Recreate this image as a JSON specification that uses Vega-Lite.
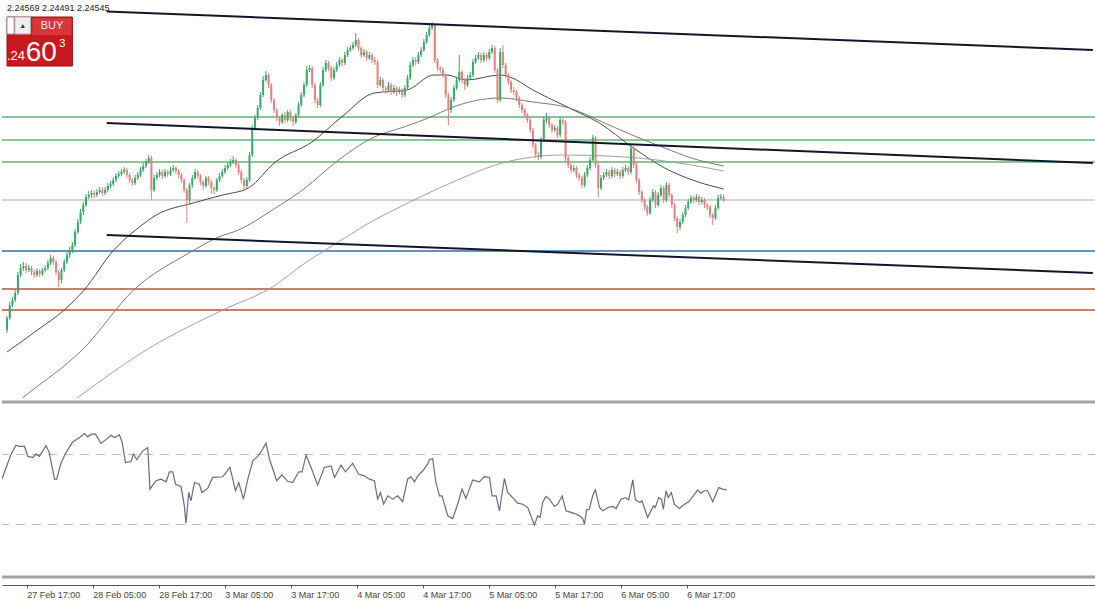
{
"$schema":"https://vega.github.io/schema/vega-lite/v6.json",
"padding":0,
"background":"white",
"spacing":2,
"config":{"view":{"stroke":null},"font":"Liberation Sans"},
"datasets":{
"candles":[
{"i":0,"o":2.2325,"h":2.2339,"l":2.2322,"c":2.2337},
{"i":1,"o":2.2337,"h":2.2353,"l":2.2335,"c":2.2350},
{"i":2,"o":2.2350,"h":2.2358,"l":2.2348,"c":2.2355},
{"i":3,"o":2.2355,"h":2.2365,"l":2.2353,"c":2.2362},
{"i":4,"o":2.2362,"h":2.2383,"l":2.2360,"c":2.2380},
{"i":5,"o":2.2380,"h":2.2391,"l":2.2378,"c":2.2387},
{"i":6,"o":2.2387,"h":2.2393,"l":2.2384,"c":2.2389},
{"i":7,"o":2.2389,"h":2.2392,"l":2.2382,"c":2.2385},
{"i":8,"o":2.2385,"h":2.2390,"l":2.2383,"c":2.2387},
{"i":9,"o":2.2387,"h":2.2389,"l":2.2380,"c":2.2383},
{"i":10,"o":2.2383,"h":2.2385,"l":2.2377,"c":2.2380},
{"i":11,"o":2.2380,"h":2.2387,"l":2.2378,"c":2.2384},
{"i":12,"o":2.2384,"h":2.2386,"l":2.2378,"c":2.2381},
{"i":13,"o":2.2381,"h":2.2387,"l":2.2379,"c":2.2385},
{"i":14,"o":2.2385,"h":2.2390,"l":2.2383,"c":2.2387},
{"i":15,"o":2.2387,"h":2.2395,"l":2.2385,"c":2.2392},
{"i":16,"o":2.2392,"h":2.2400,"l":2.2390,"c":2.2397},
{"i":17,"o":2.2397,"h":2.2399,"l":2.2390,"c":2.2393},
{"i":18,"o":2.2393,"h":2.2395,"l":2.2380,"c":2.2383},
{"i":19,"o":2.2383,"h":2.2385,"l":2.2368,"c":2.2375},
{"i":20,"o":2.2375,"h":2.2387,"l":2.2372,"c":2.2385},
{"i":21,"o":2.2385,"h":2.2396,"l":2.2383,"c":2.2393},
{"i":22,"o":2.2393,"h":2.2403,"l":2.2391,"c":2.2400},
{"i":23,"o":2.2400,"h":2.2408,"l":2.2397,"c":2.2405},
{"i":24,"o":2.2405,"h":2.2413,"l":2.2402,"c":2.2410},
{"i":25,"o":2.2410,"h":2.2426,"l":2.2408,"c":2.2423},
{"i":26,"o":2.2423,"h":2.2436,"l":2.2421,"c":2.2433},
{"i":27,"o":2.2433,"h":2.2446,"l":2.2431,"c":2.2443},
{"i":28,"o":2.2443,"h":2.2453,"l":2.2440,"c":2.2450},
{"i":29,"o":2.2450,"h":2.2461,"l":2.2448,"c":2.2458},
{"i":30,"o":2.2458,"h":2.2464,"l":2.2456,"c":2.2460},
{"i":31,"o":2.2460,"h":2.2465,"l":2.2457,"c":2.2462},
{"i":32,"o":2.2462,"h":2.2465,"l":2.2457,"c":2.2460},
{"i":33,"o":2.2460,"h":2.2466,"l":2.2458,"c":2.2463},
{"i":34,"o":2.2463,"h":2.2468,"l":2.2461,"c":2.2465},
{"i":35,"o":2.2465,"h":2.2468,"l":2.2459,"c":2.2462},
{"i":36,"o":2.2462,"h":2.2468,"l":2.2460,"c":2.2465},
{"i":37,"o":2.2465,"h":2.2472,"l":2.2463,"c":2.2469},
{"i":38,"o":2.2469,"h":2.2474,"l":2.2467,"c":2.2471},
{"i":39,"o":2.2471,"h":2.2478,"l":2.2469,"c":2.2475},
{"i":40,"o":2.2475,"h":2.2482,"l":2.2473,"c":2.2479},
{"i":41,"o":2.2479,"h":2.2484,"l":2.2477,"c":2.2481},
{"i":42,"o":2.2481,"h":2.2486,"l":2.2479,"c":2.2483},
{"i":43,"o":2.2483,"h":2.2488,"l":2.2481,"c":2.2485},
{"i":44,"o":2.2485,"h":2.2487,"l":2.2477,"c":2.2480},
{"i":45,"o":2.2480,"h":2.2482,"l":2.2472,"c":2.2475},
{"i":46,"o":2.2475,"h":2.2477,"l":2.2469,"c":2.2472},
{"i":47,"o":2.2472,"h":2.2480,"l":2.2470,"c":2.2477},
{"i":48,"o":2.2477,"h":2.2483,"l":2.2475,"c":2.2480},
{"i":49,"o":2.2480,"h":2.2488,"l":2.2478,"c":2.2485},
{"i":50,"o":2.2485,"h":2.2492,"l":2.2483,"c":2.2489},
{"i":51,"o":2.2489,"h":2.2496,"l":2.2487,"c":2.2493},
{"i":52,"o":2.2493,"h":2.2500,"l":2.2491,"c":2.2497},
{"i":53,"o":2.2497,"h":2.2499,"l":2.2455,"c":2.2465},
{"i":54,"o":2.2465,"h":2.2480,"l":2.2463,"c":2.2477},
{"i":55,"o":2.2477,"h":2.2483,"l":2.2475,"c":2.2480},
{"i":56,"o":2.2480,"h":2.2486,"l":2.2478,"c":2.2483},
{"i":57,"o":2.2483,"h":2.2485,"l":2.2476,"c":2.2479},
{"i":58,"o":2.2479,"h":2.2486,"l":2.2477,"c":2.2483},
{"i":59,"o":2.2483,"h":2.2485,"l":2.2478,"c":2.2481},
{"i":60,"o":2.2481,"h":2.2488,"l":2.2479,"c":2.2485},
{"i":61,"o":2.2485,"h":2.2490,"l":2.2483,"c":2.2487},
{"i":62,"o":2.2487,"h":2.2489,"l":2.2481,"c":2.2484},
{"i":63,"o":2.2484,"h":2.2486,"l":2.2477,"c":2.2480},
{"i":64,"o":2.2480,"h":2.2482,"l":2.2472,"c":2.2475},
{"i":65,"o":2.2475,"h":2.2477,"l":2.2462,"c":2.2465},
{"i":66,"o":2.2465,"h":2.2467,"l":2.2432,"c":2.2455},
{"i":67,"o":2.2455,"h":2.2472,"l":2.2450,"c":2.2470},
{"i":68,"o":2.2470,"h":2.2480,"l":2.2467,"c":2.2477},
{"i":69,"o":2.2477,"h":2.2486,"l":2.2475,"c":2.2483},
{"i":70,"o":2.2483,"h":2.2485,"l":2.2476,"c":2.2479},
{"i":71,"o":2.2479,"h":2.2481,"l":2.2470,"c":2.2473},
{"i":72,"o":2.2473,"h":2.2475,"l":2.2465,"c":2.2469},
{"i":73,"o":2.2469,"h":2.2479,"l":2.2467,"c":2.2477},
{"i":74,"o":2.2477,"h":2.2479,"l":2.2470,"c":2.2473},
{"i":75,"o":2.2473,"h":2.2475,"l":2.2462,"c":2.2467},
{"i":76,"o":2.2467,"h":2.2469,"l":2.2461,"c":2.2465},
{"i":77,"o":2.2465,"h":2.2477,"l":2.2463,"c":2.2475},
{"i":78,"o":2.2475,"h":2.2482,"l":2.2473,"c":2.2479},
{"i":79,"o":2.2479,"h":2.2486,"l":2.2477,"c":2.2483},
{"i":80,"o":2.2483,"h":2.2490,"l":2.2481,"c":2.2487},
{"i":81,"o":2.2487,"h":2.2493,"l":2.2485,"c":2.2490},
{"i":82,"o":2.2490,"h":2.2496,"l":2.2488,"c":2.2493},
{"i":83,"o":2.2493,"h":2.2499,"l":2.2491,"c":2.2495},
{"i":84,"o":2.2495,"h":2.2497,"l":2.2487,"c":2.2490},
{"i":85,"o":2.2490,"h":2.2492,"l":2.2480,"c":2.2483},
{"i":86,"o":2.2483,"h":2.2485,"l":2.2472,"c":2.2475},
{"i":87,"o":2.2475,"h":2.2477,"l":2.2464,"c":2.2469},
{"i":88,"o":2.2469,"h":2.2478,"l":2.2467,"c":2.2475},
{"i":89,"o":2.2475,"h":2.2503,"l":2.2473,"c":2.2500},
{"i":90,"o":2.2500,"h":2.2530,"l":2.2498,"c":2.2527},
{"i":91,"o":2.2527,"h":2.2540,"l":2.2525,"c":2.2537},
{"i":92,"o":2.2537,"h":2.2550,"l":2.2535,"c":2.2547},
{"i":93,"o":2.2547,"h":2.2563,"l":2.2545,"c":2.2560},
{"i":94,"o":2.2560,"h":2.2579,"l":2.2558,"c":2.2575},
{"i":95,"o":2.2575,"h":2.2584,"l":2.2573,"c":2.2580},
{"i":96,"o":2.2580,"h":2.2582,"l":2.2567,"c":2.2570},
{"i":97,"o":2.2570,"h":2.2572,"l":2.2552,"c":2.2555},
{"i":98,"o":2.2555,"h":2.2557,"l":2.2542,"c":2.2545},
{"i":99,"o":2.2545,"h":2.2547,"l":2.2534,"c":2.2537},
{"i":100,"o":2.2537,"h":2.2539,"l":2.2529,"c":2.2533},
{"i":101,"o":2.2533,"h":2.2542,"l":2.2531,"c":2.2540},
{"i":102,"o":2.2540,"h":2.2543,"l":2.2532,"c":2.2535},
{"i":103,"o":2.2535,"h":2.2545,"l":2.2533,"c":2.2543},
{"i":104,"o":2.2543,"h":2.2545,"l":2.2534,"c":2.2537},
{"i":105,"o":2.2537,"h":2.2539,"l":2.2529,"c":2.2533},
{"i":106,"o":2.2533,"h":2.2542,"l":2.2531,"c":2.2540},
{"i":107,"o":2.2540,"h":2.2553,"l":2.2538,"c":2.2550},
{"i":108,"o":2.2550,"h":2.2563,"l":2.2548,"c":2.2560},
{"i":109,"o":2.2560,"h":2.2573,"l":2.2558,"c":2.2570},
{"i":110,"o":2.2570,"h":2.2589,"l":2.2568,"c":2.2585},
{"i":111,"o":2.2585,"h":2.2590,"l":2.2583,"c":2.2587},
{"i":112,"o":2.2587,"h":2.2589,"l":2.2567,"c":2.2570},
{"i":113,"o":2.2570,"h":2.2572,"l":2.2552,"c":2.2555},
{"i":114,"o":2.2555,"h":2.2557,"l":2.2547,"c":2.2550},
{"i":115,"o":2.2550,"h":2.2573,"l":2.2548,"c":2.2570},
{"i":116,"o":2.2570,"h":2.2588,"l":2.2568,"c":2.2585},
{"i":117,"o":2.2585,"h":2.2595,"l":2.2583,"c":2.2592},
{"i":118,"o":2.2592,"h":2.2594,"l":2.2584,"c":2.2587},
{"i":119,"o":2.2587,"h":2.2589,"l":2.2574,"c":2.2577},
{"i":120,"o":2.2577,"h":2.2588,"l":2.2575,"c":2.2585},
{"i":121,"o":2.2585,"h":2.2593,"l":2.2583,"c":2.2590},
{"i":122,"o":2.2590,"h":2.2598,"l":2.2588,"c":2.2595},
{"i":123,"o":2.2595,"h":2.2597,"l":2.2589,"c":2.2592},
{"i":124,"o":2.2592,"h":2.2603,"l":2.2590,"c":2.2600},
{"i":125,"o":2.2600,"h":2.2608,"l":2.2598,"c":2.2605},
{"i":126,"o":2.2605,"h":2.2610,"l":2.2603,"c":2.2607},
{"i":127,"o":2.2607,"h":2.2613,"l":2.2605,"c":2.2610},
{"i":128,"o":2.2610,"h":2.2622,"l":2.2608,"c":2.2615},
{"i":129,"o":2.2615,"h":2.2617,"l":2.2604,"c":2.2607},
{"i":130,"o":2.2607,"h":2.2609,"l":2.2597,"c":2.2600},
{"i":131,"o":2.2600,"h":2.2606,"l":2.2598,"c":2.2603},
{"i":132,"o":2.2603,"h":2.2605,"l":2.2594,"c":2.2597},
{"i":133,"o":2.2597,"h":2.2603,"l":2.2595,"c":2.2600},
{"i":134,"o":2.2600,"h":2.2602,"l":2.2592,"c":2.2595},
{"i":135,"o":2.2595,"h":2.2598,"l":2.2590,"c":2.2593},
{"i":136,"o":2.2593,"h":2.2595,"l":2.2567,"c":2.2570},
{"i":137,"o":2.2570,"h":2.2578,"l":2.2568,"c":2.2575},
{"i":138,"o":2.2575,"h":2.2577,"l":2.2564,"c":2.2567},
{"i":139,"o":2.2567,"h":2.2569,"l":2.2561,"c":2.2565},
{"i":140,"o":2.2565,"h":2.2573,"l":2.2563,"c":2.2570},
{"i":141,"o":2.2570,"h":2.2572,"l":2.2560,"c":2.2563},
{"i":142,"o":2.2563,"h":2.2570,"l":2.2561,"c":2.2567},
{"i":143,"o":2.2567,"h":2.2569,"l":2.2559,"c":2.2563},
{"i":144,"o":2.2563,"h":2.2568,"l":2.2561,"c":2.2565},
{"i":145,"o":2.2565,"h":2.2567,"l":2.2557,"c":2.2560},
{"i":146,"o":2.2560,"h":2.2570,"l":2.2558,"c":2.2567},
{"i":147,"o":2.2567,"h":2.2580,"l":2.2565,"c":2.2577},
{"i":148,"o":2.2577,"h":2.2593,"l":2.2575,"c":2.2590},
{"i":149,"o":2.2590,"h":2.2598,"l":2.2588,"c":2.2595},
{"i":150,"o":2.2595,"h":2.2598,"l":2.2590,"c":2.2593},
{"i":151,"o":2.2593,"h":2.2603,"l":2.2591,"c":2.2600},
{"i":152,"o":2.2600,"h":2.2608,"l":2.2598,"c":2.2605},
{"i":153,"o":2.2605,"h":2.2616,"l":2.2603,"c":2.2613},
{"i":154,"o":2.2613,"h":2.2623,"l":2.2611,"c":2.2620},
{"i":155,"o":2.2620,"h":2.2630,"l":2.2618,"c":2.2627},
{"i":156,"o":2.2627,"h":2.2633,"l":2.2625,"c":2.2630},
{"i":157,"o":2.2630,"h":2.2632,"l":2.2592,"c":2.2595},
{"i":158,"o":2.2595,"h":2.2597,"l":2.2584,"c":2.2587},
{"i":159,"o":2.2587,"h":2.2589,"l":2.2582,"c":2.2585},
{"i":160,"o":2.2585,"h":2.2588,"l":2.2577,"c":2.2580},
{"i":161,"o":2.2580,"h":2.2582,"l":2.2557,"c":2.2560},
{"i":162,"o":2.2560,"h":2.2562,"l":2.2530,"c":2.2545},
{"i":163,"o":2.2545,"h":2.2558,"l":2.2542,"c":2.2555},
{"i":164,"o":2.2555,"h":2.2570,"l":2.2553,"c":2.2567},
{"i":165,"o":2.2567,"h":2.2578,"l":2.2565,"c":2.2575},
{"i":166,"o":2.2575,"h":2.2600,"l":2.2573,"c":2.2583},
{"i":167,"o":2.2583,"h":2.2585,"l":2.2572,"c":2.2575},
{"i":168,"o":2.2575,"h":2.2577,"l":2.2565,"c":2.2570},
{"i":169,"o":2.2570,"h":2.2580,"l":2.2568,"c":2.2577},
{"i":170,"o":2.2577,"h":2.2583,"l":2.2575,"c":2.2580},
{"i":171,"o":2.2580,"h":2.2596,"l":2.2578,"c":2.2593},
{"i":172,"o":2.2593,"h":2.2600,"l":2.2591,"c":2.2597},
{"i":173,"o":2.2597,"h":2.2603,"l":2.2595,"c":2.2600},
{"i":174,"o":2.2600,"h":2.2602,"l":2.2592,"c":2.2595},
{"i":175,"o":2.2595,"h":2.2603,"l":2.2593,"c":2.2600},
{"i":176,"o":2.2600,"h":2.2602,"l":2.2594,"c":2.2597},
{"i":177,"o":2.2597,"h":2.2606,"l":2.2595,"c":2.2603},
{"i":178,"o":2.2603,"h":2.2610,"l":2.2601,"c":2.2607},
{"i":179,"o":2.2607,"h":2.2609,"l":2.2582,"c":2.2585},
{"i":180,"o":2.2585,"h":2.2587,"l":2.2552,"c":2.2555},
{"i":181,"o":2.2555,"h":2.2607,"l":2.2553,"c":2.2603},
{"i":182,"o":2.2603,"h":2.2610,"l":2.2587,"c":2.2590},
{"i":183,"o":2.2590,"h":2.2592,"l":2.2577,"c":2.2580},
{"i":184,"o":2.2580,"h":2.2582,"l":2.2570,"c":2.2573},
{"i":185,"o":2.2573,"h":2.2575,"l":2.2562,"c":2.2565},
{"i":186,"o":2.2565,"h":2.2568,"l":2.2560,"c":2.2563},
{"i":187,"o":2.2563,"h":2.2565,"l":2.2554,"c":2.2557},
{"i":188,"o":2.2557,"h":2.2559,"l":2.2547,"c":2.2550},
{"i":189,"o":2.2550,"h":2.2552,"l":2.2542,"c":2.2545},
{"i":190,"o":2.2545,"h":2.2547,"l":2.2537,"c":2.2540},
{"i":191,"o":2.2540,"h":2.2542,"l":2.2532,"c":2.2535},
{"i":192,"o":2.2535,"h":2.2537,"l":2.2522,"c":2.2525},
{"i":193,"o":2.2525,"h":2.2527,"l":2.2507,"c":2.2510},
{"i":194,"o":2.2510,"h":2.2512,"l":2.2497,"c":2.2500},
{"i":195,"o":2.2500,"h":2.2503,"l":2.2495,"c":2.2498},
{"i":196,"o":2.2498,"h":2.2518,"l":2.2496,"c":2.2515},
{"i":197,"o":2.2515,"h":2.2538,"l":2.2513,"c":2.2535},
{"i":198,"o":2.2535,"h":2.2542,"l":2.2532,"c":2.2537},
{"i":199,"o":2.2537,"h":2.2539,"l":2.2527,"c":2.2530},
{"i":200,"o":2.2530,"h":2.2532,"l":2.2522,"c":2.2525},
{"i":201,"o":2.2525,"h":2.2530,"l":2.2523,"c":2.2527},
{"i":202,"o":2.2527,"h":2.2529,"l":2.2517,"c":2.2520},
{"i":203,"o":2.2520,"h":2.2538,"l":2.2518,"c":2.2535},
{"i":204,"o":2.2535,"h":2.2537,"l":2.2530,"c":2.2533},
{"i":205,"o":2.2533,"h":2.2535,"l":2.2494,"c":2.2497},
{"i":206,"o":2.2497,"h":2.2499,"l":2.2487,"c":2.2490},
{"i":207,"o":2.2490,"h":2.2492,"l":2.2482,"c":2.2485},
{"i":208,"o":2.2485,"h":2.2490,"l":2.2483,"c":2.2487},
{"i":209,"o":2.2487,"h":2.2489,"l":2.2477,"c":2.2480},
{"i":210,"o":2.2480,"h":2.2482,"l":2.2474,"c":2.2477},
{"i":211,"o":2.2477,"h":2.2479,"l":2.2467,"c":2.2470},
{"i":212,"o":2.2470,"h":2.2483,"l":2.2468,"c":2.2480},
{"i":213,"o":2.2480,"h":2.2490,"l":2.2478,"c":2.2487},
{"i":214,"o":2.2487,"h":2.2498,"l":2.2485,"c":2.2495},
{"i":215,"o":2.2495,"h":2.2520,"l":2.2493,"c":2.2517},
{"i":216,"o":2.2517,"h":2.2519,"l":2.2487,"c":2.2490},
{"i":217,"o":2.2490,"h":2.2492,"l":2.2458,"c":2.2467},
{"i":218,"o":2.2467,"h":2.2480,"l":2.2465,"c":2.2477},
{"i":219,"o":2.2477,"h":2.2483,"l":2.2475,"c":2.2480},
{"i":220,"o":2.2480,"h":2.2486,"l":2.2478,"c":2.2483},
{"i":221,"o":2.2483,"h":2.2485,"l":2.2476,"c":2.2479},
{"i":222,"o":2.2479,"h":2.2488,"l":2.2477,"c":2.2485},
{"i":223,"o":2.2485,"h":2.2487,"l":2.2478,"c":2.2481},
{"i":224,"o":2.2481,"h":2.2486,"l":2.2479,"c":2.2483},
{"i":225,"o":2.2483,"h":2.2485,"l":2.2476,"c":2.2479},
{"i":226,"o":2.2479,"h":2.2488,"l":2.2477,"c":2.2485},
{"i":227,"o":2.2485,"h":2.2490,"l":2.2483,"c":2.2487},
{"i":228,"o":2.2487,"h":2.2489,"l":2.2480,"c":2.2483},
{"i":229,"o":2.2483,"h":2.2510,"l":2.2481,"c":2.2507},
{"i":230,"o":2.2507,"h":2.2509,"l":2.2487,"c":2.2490},
{"i":231,"o":2.2490,"h":2.2492,"l":2.2472,"c":2.2475},
{"i":232,"o":2.2475,"h":2.2477,"l":2.2460,"c":2.2463},
{"i":233,"o":2.2463,"h":2.2465,"l":2.2452,"c":2.2455},
{"i":234,"o":2.2455,"h":2.2457,"l":2.2445,"c":2.2448},
{"i":235,"o":2.2448,"h":2.2450,"l":2.2439,"c":2.2442},
{"i":236,"o":2.2442,"h":2.2458,"l":2.2440,"c":2.2455},
{"i":237,"o":2.2455,"h":2.2466,"l":2.2453,"c":2.2463},
{"i":238,"o":2.2463,"h":2.2465,"l":2.2447,"c":2.2450},
{"i":239,"o":2.2450,"h":2.2463,"l":2.2448,"c":2.2460},
{"i":240,"o":2.2460,"h":2.2470,"l":2.2458,"c":2.2467},
{"i":241,"o":2.2467,"h":2.2469,"l":2.2452,"c":2.2455},
{"i":242,"o":2.2455,"h":2.2473,"l":2.2453,"c":2.2470},
{"i":243,"o":2.2470,"h":2.2472,"l":2.2457,"c":2.2460},
{"i":244,"o":2.2460,"h":2.2462,"l":2.2447,"c":2.2450},
{"i":245,"o":2.2450,"h":2.2452,"l":2.2434,"c":2.2437},
{"i":246,"o":2.2437,"h":2.2439,"l":2.2422,"c":2.2428},
{"i":247,"o":2.2428,"h":2.2436,"l":2.2425,"c":2.2433},
{"i":248,"o":2.2433,"h":2.2443,"l":2.2431,"c":2.2440},
{"i":249,"o":2.2440,"h":2.2450,"l":2.2438,"c":2.2447},
{"i":250,"o":2.2447,"h":2.2456,"l":2.2445,"c":2.2453},
{"i":251,"o":2.2453,"h":2.2460,"l":2.2451,"c":2.2457},
{"i":252,"o":2.2457,"h":2.2459,"l":2.2452,"c":2.2455},
{"i":253,"o":2.2455,"h":2.2461,"l":2.2453,"c":2.2458},
{"i":254,"o":2.2458,"h":2.2460,"l":2.2450,"c":2.2453},
{"i":255,"o":2.2453,"h":2.2458,"l":2.2451,"c":2.2455},
{"i":256,"o":2.2455,"h":2.2457,"l":2.2447,"c":2.2450},
{"i":257,"o":2.2450,"h":2.2452,"l":2.2445,"c":2.2448},
{"i":258,"o":2.2448,"h":2.2450,"l":2.2437,"c":2.2440},
{"i":259,"o":2.2440,"h":2.2442,"l":2.2430,"c":2.2437},
{"i":260,"o":2.2437,"h":2.2450,"l":2.2435,"c":2.2447},
{"i":261,"o":2.2447,"h":2.2460,"l":2.2445,"c":2.2457},
{"i":262,"o":2.2457,"h":2.2461,"l":2.2455,"c":2.2458},
{"i":263,"o":2.2458,"h":2.2460,"l":2.2453,"c":2.2455}
],
"ma":[
{"ma":"fast","i":0,"p":2.2303},{"ma":"fast","i":11.2,"p":2.2325},{"ma":"fast","i":21,"p":2.2345},{"ma":"fast","i":28.3,"p":2.2365},{"ma":"fast","i":39.2,"p":2.2405},{"ma":"fast","i":48.6,"p":2.2428},{"ma":"fast","i":54.8,"p":2.2440},{"ma":"fast","i":68.3,"p":2.2452},{"ma":"fast","i":79.2,"p":2.2460},{"ma":"fast","i":88.6,"p":2.2467},{"ma":"fast","i":98.5,"p":2.2493},{"ma":"fast","i":111.9,"p":2.2513},{"ma":"fast","i":122.8,"p":2.2538},{"ma":"fast","i":134.8,"p":2.2562},{"ma":"fast","i":146.8,"p":2.2565},{"ma":"fast","i":156.6,"p":2.2580},{"ma":"fast","i":161.4,"p":2.2580},{"ma":"fast","i":168.6,"p":2.2575},{"ma":"fast","i":181,"p":2.2580},{"ma":"fast","i":184.6,"p":2.2578},{"ma":"fast","i":193,"p":2.2565},{"ma":"fast","i":206.4,"p":2.2547},{"ma":"fast","i":217.4,"p":2.2532},{"ma":"fast","i":229.4,"p":2.2508},{"ma":"fast","i":241.4,"p":2.2487},{"ma":"fast","i":253.7,"p":2.2473},{"ma":"fast","i":263,"p":2.2466},
{"ma":"medium","i":0,"p":2.2244},{"ma":"medium","i":5.7,"p":2.2257},{"ma":"medium","i":28.3,"p":2.2307},{"ma":"medium","i":46.5,"p":2.2365},{"ma":"medium","i":66.8,"p":2.2402},{"ma":"medium","i":77.7,"p":2.2418},{"ma":"medium","i":85,"p":2.2425},{"ma":"medium","i":97.4,"p":2.2445},{"ma":"medium","i":109.4,"p":2.2467},{"ma":"medium","i":120.3,"p":2.2492},{"ma":"medium","i":134.8,"p":2.2518},{"ma":"medium","i":145.7,"p":2.2528},{"ma":"medium","i":155.5,"p":2.2538},{"ma":"medium","i":162.8,"p":2.2547},{"ma":"medium","i":181,"p":2.2557},{"ma":"medium","i":193,"p":2.2553},{"ma":"medium","i":206.4,"p":2.2547},{"ma":"medium","i":218.5,"p":2.2533},{"ma":"medium","i":229.4,"p":2.2520},{"ma":"medium","i":241.4,"p":2.2507},{"ma":"medium","i":251.2,"p":2.2497},{"ma":"medium","i":263,"p":2.2489},
{"ma":"slow","i":14.8,"p":2.2235},{"ma":"slow","i":25.7,"p":2.2257},{"ma":"slow","i":52.3,"p":2.2307},{"ma":"slow","i":79.2,"p":2.2345},{"ma":"slow","i":97.4,"p":2.2368},{"ma":"slow","i":109.4,"p":2.2392},{"ma":"slow","i":122.8,"p":2.2415},{"ma":"slow","i":134.8,"p":2.2435},{"ma":"slow","i":142,"p":2.2445},{"ma":"slow","i":162.8,"p":2.2472},{"ma":"slow","i":183.2,"p":2.2493},{"ma":"slow","i":193,"p":2.2498},{"ma":"slow","i":203.9,"p":2.2500},{"ma":"slow","i":226.8,"p":2.2498},{"ma":"slow","i":251.2,"p":2.2490},{"ma":"slow","i":263,"p":2.2484}
],
"levels":[
{"name":"R1","price":2.2538},{"name":"R2","price":2.2515},{"name":"R3","price":2.2493},{"name":"P","price":2.2455},{"name":"S1","price":2.2404},{"name":"S2","price":2.2366},{"name":"S3","price":2.2345}
],
"trend":[
{"line":"upper","i":36.6,"p":2.26435},{"line":"upper","i":398.5,"p":2.2605},
{"line":"middle","i":36.6,"p":2.2532},{"line":"middle","i":398.5,"p":2.2492},
{"line":"lower","i":36.6,"p":2.2420},{"line":"lower","i":398.5,"p":2.2382}
],
"rsiLevels":[{"level":70},{"level":30}],
"rsi":[
{"i":0,"v":55.9},{"i":1.5,"v":62.6},{"i":3.3,"v":70.2},{"i":5.1,"v":75.3},{"i":6.3,"v":74.6},{"i":8.2,"v":74.6},{"i":9.4,"v":68.9},{"i":11.2,"v":68.3},{"i":12.4,"v":70.2},{"i":13.6,"v":68.9},{"i":16,"v":75},{"i":17.2,"v":71.1},{"i":19.1,"v":55.9},{"i":19.9,"v":55.9},{"i":21.5,"v":65.4},{"i":23.3,"v":71.1},{"i":25.7,"v":77.2},{"i":28.2,"v":79.7},{"i":30,"v":82},{"i":31.2,"v":80.1},{"i":32.4,"v":81.6},{"i":34,"v":81.6},{"i":36,"v":76.3},{"i":37.2,"v":77.8},{"i":39.7,"v":81},{"i":40.9,"v":79.7},{"i":42.7,"v":81.2},{"i":43.7,"v":76.9},{"i":44.9,"v":65.4},{"i":46.9,"v":66},{"i":47.8,"v":70.2},{"i":49,"v":67},{"i":51.2,"v":72.1},{"i":53,"v":74},{"i":53.8,"v":50.2},{"i":56,"v":55},{"i":57.8,"v":55.9},{"i":59.7,"v":54.4},{"i":60.9,"v":60.1},{"i":62.1,"v":60.1},{"i":63.1,"v":53},{"i":65.1,"v":51.7},{"i":66.3,"v":40.7},{"i":66.9,"v":30.7},{"i":67.9,"v":48.3},{"i":68.7,"v":43.5},{"i":70,"v":54},{"i":71.8,"v":53},{"i":72.7,"v":48.3},{"i":74.8,"v":50.6},{"i":76.6,"v":56.9},{"i":80.3,"v":57.3},{"i":82.9,"v":62.6},{"i":84.9,"v":49.3},{"i":86.1,"v":54},{"i":87.8,"v":44.5},{"i":89.4,"v":55.9},{"i":91.2,"v":66.4},{"i":93,"v":68.9},{"i":94.8,"v":73},{"i":96,"v":76.5},{"i":97.3,"v":67.3},{"i":99.9,"v":55},{"i":101.8,"v":58.4},{"i":103.9,"v":54.7},{"i":105.7,"v":54},{"i":107.9,"v":60.1},{"i":109.1,"v":60.1},{"i":110.6,"v":69.6},{"i":112.4,"v":62.6},{"i":114.8,"v":52.5},{"i":117.2,"v":62.6},{"i":119.7,"v":63.5},{"i":120.9,"v":56.9},{"i":123.3,"v":63.9},{"i":124.9,"v":60.1},{"i":127.5,"v":65},{"i":129.7,"v":58.7},{"i":131.8,"v":57.8},{"i":133.6,"v":55.9},{"i":135.4,"v":55},{"i":136.6,"v":44.5},{"i":137.6,"v":48.3},{"i":138.8,"v":41.6},{"i":140.3,"v":46.4},{"i":142.1,"v":44.5},{"i":143.9,"v":46.4},{"i":145.7,"v":43},{"i":147.5,"v":55.9},{"i":148.7,"v":57.4},{"i":150,"v":54.4},{"i":151.2,"v":57.8},{"i":153,"v":60.7},{"i":154.8,"v":64.5},{"i":155.4,"v":67},{"i":156.6,"v":67.7},{"i":157.8,"v":54},{"i":159.1,"v":46.4},{"i":160,"v":46.4},{"i":162.1,"v":35},{"i":163.9,"v":33.4},{"i":165.7,"v":41.6},{"i":167.3,"v":50.2},{"i":168.7,"v":44.9},{"i":171.2,"v":55.5},{"i":173.6,"v":54.4},{"i":175.4,"v":57.4},{"i":177.3,"v":56.9},{"i":178.2,"v":46.4},{"i":179.7,"v":46.4},{"i":180.9,"v":37.8},{"i":182.7,"v":56.3},{"i":183.9,"v":48.3},{"i":185.7,"v":45.4},{"i":187.5,"v":42.2},{"i":189.4,"v":41.6},{"i":191.2,"v":39.7},{"i":193.6,"v":29.6},{"i":194.8,"v":35},{"i":195.7,"v":34},{"i":196.6,"v":42.6},{"i":197.8,"v":46},{"i":199.1,"v":44.5},{"i":200.9,"v":40.3},{"i":202.1,"v":41.6},{"i":203.7,"v":46.4},{"i":205.1,"v":37.8},{"i":206.9,"v":36.9},{"i":208.8,"v":35.9},{"i":210,"v":35},{"i":211.2,"v":33.4},{"i":211.8,"v":30.2},{"i":212.6,"v":38.4},{"i":213.6,"v":38.7},{"i":214.8,"v":46.4},{"i":215.8,"v":49.8},{"i":217.3,"v":39.7},{"i":218.5,"v":37.8},{"i":220.3,"v":39.7},{"i":222.1,"v":40.3},{"i":223.3,"v":39.1},{"i":225.1,"v":44.5},{"i":226.7,"v":45.4},{"i":227.9,"v":44.1},{"i":229.4,"v":55.5},{"i":230.3,"v":44.1},{"i":232,"v":42.6},{"i":232.7,"v":43.5},{"i":234.8,"v":34},{"i":236.9,"v":40.7},{"i":237.6,"v":39.7},{"i":238.8,"v":45.4},{"i":239.8,"v":44.5},{"i":240.5,"v":38.7},{"i":241.5,"v":49.3},{"i":242.3,"v":45.4},{"i":243.4,"v":48.3},{"i":244.5,"v":41.6},{"i":246.3,"v":39.1},{"i":248.2,"v":41.6},{"i":249.7,"v":43},{"i":251.4,"v":46.4},{"i":253,"v":49.8},{"i":254.2,"v":47.9},{"i":255.4,"v":49.3},{"i":256.6,"v":49.3},{"i":258.5,"v":43},{"i":260.6,"v":51.1},{"i":262.1,"v":50.2},{"i":263.5,"v":49.8}
]
},
"vconcat":[
{
"width":1095,"height":398,
"resolve":{"scale":{"color":"independent"}},
"layer":[
{"data":{"name":"levels"},
 "mark":{"type":"rule","clip":true},
 "encoding":{
  "y":{"field":"price","type":"quantitative","scale":{"domain":[2.2257,2.2655],"nice":false,"zero":false},"axis":null},
  "color":{"field":"name","type":"nominal","scale":{"domain":["R1","R2","R3","P","S1","S2","S3"],"range":["#5cb37c","#5cb870","#5cb870","#a9a9a9","#2f6ea5","#b4533d","#b4533d"]},"legend":null},
  "strokeWidth":{"condition":{"test":"datum.name==='P'","value":1},"value":1.6}
 }},
{"data":{"name":"ma"},
 "mark":{"type":"line","interpolate":"monotone","strokeWidth":1,"clip":true},
 "encoding":{
  "x":{"field":"i","type":"quantitative","scale":{"domain":[0,398.2],"nice":false,"zero":false},"axis":null},
  "y":{"field":"p","type":"quantitative","scale":{"domain":[2.2257,2.2655],"nice":false,"zero":false},"axis":null},
  "color":{"field":"ma","type":"nominal","scale":{"domain":["fast","medium","slow"],"range":["#4a4a4a","#7a7a7a","#a0a0a0"]},"legend":null},
  "detail":{"field":"ma"}
 }},
{"data":{"name":"candles"},
 "mark":{"type":"rule","strokeWidth":1,"clip":true},
 "encoding":{
  "x":{"field":"i","type":"quantitative","scale":{"domain":[0,398.2],"nice":false,"zero":false},"axis":null},
  "y":{"field":"l","type":"quantitative","scale":{"domain":[2.2257,2.2655],"nice":false,"zero":false},"axis":null},
  "y2":{"field":"h"},
  "color":{"condition":{"test":"datum.c >= datum.o","value":"#3aa86a"},"value":"#e5807c"}
 }},
{"data":{"name":"candles"},
 "mark":{"type":"bar","width":2,"orient":"vertical","clip":true},
 "encoding":{
  "x":{"field":"i","type":"quantitative","scale":{"domain":[0,398.2],"nice":false,"zero":false},"axis":null},
  "y":{"field":"o","type":"quantitative","scale":{"domain":[2.2257,2.2655],"nice":false,"zero":false},"axis":null},
  "y2":{"field":"c"},
  "color":{"condition":{"test":"datum.c >= datum.o","value":"#3aa86a"},"value":"#e5807c"}
 }},
{"data":{"name":"trend"},
 "mark":{"type":"line","strokeWidth":2,"color":"#15152a","clip":true},
 "encoding":{
  "x":{"field":"i","type":"quantitative","scale":{"domain":[0,398.2],"nice":false,"zero":false},"axis":null},
  "y":{"field":"p","type":"quantitative","scale":{"domain":[2.2257,2.2655],"nice":false,"zero":false},"axis":null},
  "detail":{"field":"line"}
 }},
{"data":{"values":[{}]},
 "mark":{"type":"text","text":"2.24569 2.24491 2.24545","align":"left","baseline":"middle","fontSize":9,"color":"#222222","font":"Liberation Sans"},
 "encoding":{
  "x":{"datum":0,"type":"quantitative","scale":{"domain":[0,398.2],"nice":false,"zero":false},"axis":null},
  "y":{"datum":2.2647,"type":"quantitative","scale":{"domain":[2.2257,2.2655],"nice":false,"zero":false},"axis":null}
 }},
{"data":{"values":[{}]},
 "mark":{"type":"rect","color":"#c9181e","stroke":"#9e1015","strokeWidth":1},
 "encoding":{
  "x":{"datum":0,"type":"quantitative","scale":{"domain":[0,398.2],"nice":false,"zero":false},"axis":null},
  "x2":{"datum":24},
  "y":{"datum":2.2638,"type":"quantitative","scale":{"domain":[2.2257,2.2655],"nice":false,"zero":false},"axis":null},
  "y2":{"datum":2.2589}
 }},
{"data":{"values":[{}]},
 "mark":{"type":"rect","color":"#d9363b"},
 "encoding":{
  "x":{"datum":9.3,"type":"quantitative","scale":{"domain":[0,398.2],"nice":false,"zero":false},"axis":null},
  "x2":{"datum":23.7},
  "y":{"datum":2.2637,"type":"quantitative","scale":{"domain":[2.2257,2.2655],"nice":false,"zero":false},"axis":null},
  "y2":{"datum":2.2620}
 }},
{"data":{"values":[{}]},
 "mark":{"type":"rect","color":"#ffffff","stroke":"#9a9a9a","strokeWidth":1},
 "encoding":{
  "x":{"datum":0,"type":"quantitative","scale":{"domain":[0,398.2],"nice":false,"zero":false},"axis":null},
  "x2":{"datum":2.6},
  "y":{"datum":2.2638,"type":"quantitative","scale":{"domain":[2.2257,2.2655],"nice":false,"zero":false},"axis":null},
  "y2":{"datum":2.2621}
 }},
{"data":{"values":[{}]},
 "mark":{"type":"rect","color":"#eeeeee","stroke":"#b5b5b5","strokeWidth":1},
 "encoding":{
  "x":{"datum":2.9,"type":"quantitative","scale":{"domain":[0,398.2],"nice":false,"zero":false},"axis":null},
  "x2":{"datum":8.6},
  "y":{"datum":2.2638,"type":"quantitative","scale":{"domain":[2.2257,2.2655],"nice":false,"zero":false},"axis":null},
  "y2":{"datum":2.2621}
 }},
{"data":{"values":[{}]},
 "mark":{"type":"text","text":"▲","align":"center","baseline":"middle","fontSize":7,"color":"#333333"},
 "encoding":{
  "x":{"datum":5.8,"type":"quantitative","scale":{"domain":[0,398.2],"nice":false,"zero":false},"axis":null},
  "y":{"datum":2.26295,"type":"quantitative","scale":{"domain":[2.2257,2.2655],"nice":false,"zero":false},"axis":null}
 }},
{"data":{"values":[{}]},
 "mark":{"type":"text","text":"BUY","align":"center","baseline":"middle","fontSize":11,"color":"#ffe4e4"},
 "encoding":{
  "x":{"datum":16.5,"type":"quantitative","scale":{"domain":[0,398.2],"nice":false,"zero":false},"axis":null},
  "y":{"datum":2.2629,"type":"quantitative","scale":{"domain":[2.2257,2.2655],"nice":false,"zero":false},"axis":null}
 }},
{"data":{"values":[{}]},
 "mark":{"type":"text","text":".24","align":"left","baseline":"alphabetic","fontSize":13,"color":"#ffffff"},
 "encoding":{
  "x":{"datum":0,"type":"quantitative","scale":{"domain":[0,398.2],"nice":false,"zero":false},"axis":null},
  "y":{"datum":2.2595,"type":"quantitative","scale":{"domain":[2.2257,2.2655],"nice":false,"zero":false},"axis":null}
 }},
{"data":{"values":[{}]},
 "mark":{"type":"text","text":"60","align":"left","baseline":"alphabetic","fontSize":28,"color":"#ffffff"},
 "encoding":{
  "x":{"datum":6.9,"type":"quantitative","scale":{"domain":[0,398.2],"nice":false,"zero":false},"axis":null},
  "y":{"datum":2.2594,"type":"quantitative","scale":{"domain":[2.2257,2.2655],"nice":false,"zero":false},"axis":null}
 }},
{"data":{"values":[{}]},
 "mark":{"type":"text","text":"3","align":"left","baseline":"alphabetic","fontSize":11,"color":"#ffffff"},
 "encoding":{
  "x":{"datum":19.2,"type":"quantitative","scale":{"domain":[0,398.2],"nice":false,"zero":false},"axis":null},
  "y":{"datum":2.2608,"type":"quantitative","scale":{"domain":[2.2257,2.2655],"nice":false,"zero":false},"axis":null}
 }}
]
},
{
"width":1095,"height":175,
"layer":[
{"data":{"values":[{}]},
 "mark":{"type":"rule","strokeWidth":3,"color":"#a3a3a3"},
 "encoding":{"y":{"datum":100,"type":"quantitative","scale":{"domain":[0,100],"nice":false,"zero":false},"axis":null}}},
{"data":{"values":[{}]},
 "mark":{"type":"rule","strokeWidth":3,"color":"#a3a3a3"},
 "encoding":{"y":{"datum":0,"type":"quantitative","scale":{"domain":[0,100],"nice":false,"zero":false},"axis":null}}},
{"data":{"name":"rsiLevels"},
 "mark":{"type":"rule","strokeWidth":1,"strokeDash":[9,7],"color":"#b9b9c9"},
 "encoding":{"y":{"field":"level","type":"quantitative","scale":{"domain":[0,100],"nice":false,"zero":false},"axis":null}}},
{"data":{"name":"rsi"},
 "mark":{"type":"line","strokeWidth":1.2,"color":"#6a6a86","clip":true},
 "encoding":{
  "x":{"field":"i","type":"quantitative","scale":{"domain":[0,398.2],"nice":false,"zero":false},
   "axis":{"values":[9,33,57,81,105,129,153,177,201,225,249],
    "labelExpr":"['27 Feb 17:00','28 Feb 05:00','28 Feb 17:00','3 Mar 05:00','3 Mar 17:00','4 Mar 05:00','4 Mar 17:00','5 Mar 05:00','5 Mar 17:00','6 Mar 05:00','6 Mar 17:00'][round((datum.value-9)/24)]",
    "offset":8,"grid":false,"title":null,"domainColor":"#555555","domainWidth":1,"tickColor":"#555555","tickSize":3,
    "labelAlign":"left","labelFont":"Liberation Sans","labelFontSize":9,"labelColor":"#444444","labelPadding":2,
    "labelOverlap":false,"labelBound":false,"labelFlush":false}},
  "y":{"field":"v","type":"quantitative","scale":{"domain":[0,100],"nice":false,"zero":false},"axis":null}
 }}
]
}
]
}
